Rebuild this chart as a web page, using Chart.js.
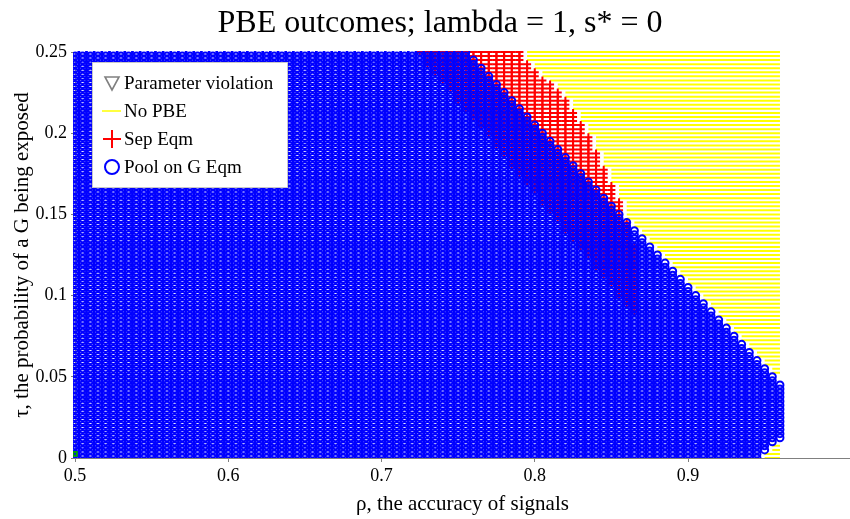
<!DOCTYPE html>
<html>
<head>
<meta charset="utf-8">
<script src="https://cdn.jsdelivr.net/npm/chart.js@4.4.1/dist/chart.umd.min.js"></script>
<style>
html,body{margin:0;padding:0;background:#ffffff;}
#wrap{width:850px;height:519px;position:relative;}
</style>
</head>
<body>
<div id="wrap"><canvas id="c" width="850" height="519"></canvas></div>
<script>
// ---------------- data ----------------
const titleText = 'PBE outcomes; lambda = 1, s* = 0';
const xAxisTitle = 'ρ, the accuracy of signals';
const yAxisTitle = 'τ, the probability of a G being exposed';
const seriesNames = ['Parameter violation', 'No PBE', 'Sep Eqm', 'Pool on G Eqm'];

const xTickValues = [0.5, 0.6, 0.7, 0.8, 0.9];
const xTickLabels = ['0.5', '0.6', '0.7', '0.8', '0.9'];
const yTickValues = [0, 0.05, 0.1, 0.15, 0.2, 0.25];
const yTickLabels = ['0', '0.05', '0.1', '0.15', '0.2', '0.25'];

// rho grid (columns)
const rhoGrid = [
  0.5,0.505,0.51,0.515,0.52,0.525,0.53,0.535,0.54,0.545,
  0.55,0.555,0.56,0.565,0.57,0.575,0.58,0.585,0.59,0.595,
  0.6,0.605,0.61,0.615,0.62,0.625,0.63,0.635,0.64,0.645,
  0.65,0.655,0.66,0.665,0.67,0.675,0.68,0.685,0.69,0.695,
  0.7,0.705,0.71,0.715,0.72,0.725,0.73,0.735,0.74,0.745,
  0.75,0.755,0.76,0.765,0.77,0.775,0.78,0.785,0.79,0.795,
  0.8,0.805,0.81,0.815,0.82,0.825,0.83,0.835,0.84,0.845,
  0.85,0.855,0.86,0.865,0.87,0.875,0.88,0.885,0.89,0.895,
  0.9,0.905,0.91,0.915,0.92,0.925,0.93,0.935,0.94,0.945,
  0.95,0.955,0.96
];

// tau grid (rows)
const tauGrid = [
  0,0.0025,0.005,0.0075,0.01,0.0125,0.015,0.0175,0.02,0.0225,
  0.025,0.0275,0.03,0.0325,0.035,0.0375,0.04,0.0425,0.045,0.0475,
  0.05,0.0525,0.055,0.0575,0.06,0.0625,0.065,0.0675,0.07,0.0725,
  0.075,0.0775,0.08,0.0825,0.085,0.0875,0.09,0.0925,0.095,0.0975,
  0.1,0.1025,0.105,0.1075,0.11,0.1125,0.115,0.1175,0.12,0.1225,
  0.125,0.1275,0.13,0.1325,0.135,0.1375,0.14,0.1425,0.145,0.1475,
  0.15,0.1525,0.155,0.1575,0.16,0.1625,0.165,0.1675,0.17,0.1725,
  0.175,0.1775,0.18,0.1825,0.185,0.1875,0.19,0.1925,0.195,0.1975,
  0.2,0.2025,0.205,0.2075,0.21,0.2125,0.215,0.2175,0.22,0.2225,
  0.225,0.2275,0.23,0.2325,0.235,0.2375,0.24,0.2425,0.245,0.2475,
  0.25
];

// Pool on G Eqm: tau range per rho column
const poolTauMin = [
  0,0,0,0,0,0,0,0,0,0, 0,0,0,0,0,0,0,0,0,0,
  0,0,0,0,0,0,0,0,0,0, 0,0,0,0,0,0,0,0,0,0,
  0,0,0,0,0,0,0,0,0,0, 0,0,0,0,0,0,0,0,0,0,
  0,0,0,0,0,0,0,0,0,0, 0,0,0,0,0,0,0,0,0,0,
  0,0,0,0,0,0,0,0,0,0, 0.005,0.01,0.0125
];
const poolTauMax = [
  0.25,0.25,0.25,0.25,0.25,0.25,0.25,0.25,0.25,0.25,
  0.25,0.25,0.25,0.25,0.25,0.25,0.25,0.25,0.25,0.25,
  0.25,0.25,0.25,0.25,0.25,0.25,0.25,0.25,0.25,0.25,
  0.25,0.25,0.25,0.25,0.25,0.25,0.25,0.25,0.25,0.25,
  0.25,0.25,0.25,0.25,0.25,0.25,0.25,0.25,0.25,0.25,
  0.25,0.25,0.245,0.24,0.235,0.23,0.225,0.22,0.215,0.21,
  0.205,0.2,0.195,0.19,0.185,0.18,0.175,0.17,0.165,0.16,
  0.155,0.15,0.145,0.14,0.135,0.13,0.125,0.12,0.115,0.11,
  0.105,0.1,0.095,0.09,0.085,0.08,0.075,0.07,0.065,0.06,
  0.055,0.05,0.045
];

// Sep Eqm: tau range per rho column (only these columns)
const sepRho = [
  0.725,0.73,0.735,0.74,0.745,0.75,0.755,0.76,0.765,0.77,
  0.775,0.78,0.785,0.79,0.795,0.8,0.805,0.81,0.815,0.82,
  0.825,0.83,0.835,0.84,0.845,0.85,0.855,0.86,0.865
];
const sepTauMin = [
  0.25,0.2425,0.2375,0.2325,0.2275,0.22,0.215,0.21,0.205,0.2,
  0.1925,0.1875,0.18,0.175,0.17,0.165,0.1575,0.1525,0.1475,0.14,
  0.135,0.13,0.125,0.1175,0.1125,0.1075,0.1,0.095,0.09
];
const sepTauMax = [
  0.25,0.25,0.25,0.25,0.25,0.25,0.25,0.25,0.25,0.25,
  0.25,0.25,0.25,0.25,0.2425,0.2375,0.2325,0.23,0.225,0.22,
  0.2125,0.205,0.1975,0.1875,0.1775,0.1675,0.1575,0.145,0.13
];

// Parameter violation: no grid point visible
const violationRho = [];
const violationTau = [];
// small green mark at the origin corner
const originMarkRho = [0.5];
const originMarkTau = [0.0025];

// ---------------- build point sets ----------------
const EPS = 1e-9;
function inRange(v, lo, hi) { return v >= lo - EPS && v <= hi + EPS; }
function sepIndex(rho) { return sepRho.findIndex(r => Math.abs(r - rho) < EPS); }
function hasPool(i, j) { return inRange(tauGrid[j], poolTauMin[i], poolTauMax[i]); }
function hasSep(i, j) {
  const k = sepIndex(rhoGrid[i]);
  return k >= 0 && inRange(tauGrid[j], sepTauMin[k], sepTauMax[k]);
}

const poolPts = [], sepPts = [], noPbePts = [];
for (let i = 0; i < rhoGrid.length; i++) {
  for (let j = 0; j < tauGrid.length; j++) {
    if (hasSep(i, j)) sepPts.push({x: rhoGrid[i], y: tauGrid[j]});
    if (hasPool(i, j)) poolPts.push({x: rhoGrid[i], y: tauGrid[j]});
  }
}
for (let j = 0; j < tauGrid.length; j++) {
  let start = -1;
  for (let i = 0; i <= rhoGrid.length; i++) {
    const none = i < rhoGrid.length && !hasPool(i, j) && !hasSep(i, j);
    if (none && start < 0) start = i;
    if (!none && start >= 0) {
      noPbePts.push({x: rhoGrid[start], y: tauGrid[j]});
      noPbePts.push({x: rhoGrid[i - 1], y: tauGrid[j]});
      noPbePts.push({x: NaN, y: NaN});
      start = -1;
    }
  }
}
const violationPts = violationRho.map((r, k) => ({x: r, y: violationTau[k]}));
const originPts = originMarkRho.map((r, k) => ({x: r, y: originMarkTau[k]}));

// ---------------- plugins ----------------
const SERIF = '"Liberation Serif", "Times New Roman", Times, serif';

const titlePlugin = {
  id: 'plotTitle',
  afterDraw(chart) {
    const ctx = chart.ctx;
    ctx.save();
    ctx.font = '32px ' + SERIF;
    ctx.fillStyle = '#000';
    ctx.textAlign = 'center';
    ctx.textBaseline = 'alphabetic';
    ctx.fillText(titleText, 440, 32);
    ctx.restore();
  }
};

const legendPlugin = {
  id: 'boxLegend',
  afterDatasetsDraw(chart) {
    const ctx = chart.ctx;
    ctx.save();
    const bx = 92, by = 62, bw = 196, bh = 126;
    ctx.fillStyle = '#ffffff';
    ctx.fillRect(bx, by, bw, bh);
    ctx.strokeStyle = '#c8c8c8';
    ctx.lineWidth = 1;
    ctx.strokeRect(bx + 0.5, by + 0.5, bw - 1, bh - 1);
    const mx = 112, tx = 124;
    const rows = [83, 111, 139, 167];
    // Parameter violation: grey downward triangle
    ctx.strokeStyle = '#808080';
    ctx.lineWidth = 1.6;
    ctx.beginPath();
    ctx.moveTo(mx - 7, rows[0] - 6);
    ctx.lineTo(mx + 7, rows[0] - 6);
    ctx.lineTo(mx, rows[0] + 7);
    ctx.closePath();
    ctx.stroke();
    // No PBE: yellow line
    ctx.strokeStyle = '#ffff00';
    ctx.lineWidth = 1.5;
    ctx.beginPath();
    ctx.moveTo(mx - 10, rows[1]);
    ctx.lineTo(mx + 9, rows[1]);
    ctx.stroke();
    // Sep Eqm: red plus
    ctx.strokeStyle = '#ff0000';
    ctx.lineWidth = 2;
    ctx.beginPath();
    ctx.moveTo(mx - 9, rows[2]); ctx.lineTo(mx + 9, rows[2]);
    ctx.moveTo(mx, rows[2] - 9); ctx.lineTo(mx, rows[2] + 9);
    ctx.stroke();
    // Pool on G Eqm: blue circle
    ctx.strokeStyle = '#0000ff';
    ctx.lineWidth = 2;
    ctx.beginPath();
    ctx.arc(mx, rows[3], 7, 0, Math.PI * 2);
    ctx.stroke();
    // labels
    ctx.fillStyle = '#000';
    ctx.font = '19px ' + SERIF;
    ctx.textAlign = 'left';
    ctx.textBaseline = 'middle';
    seriesNames.forEach((name, k) => ctx.fillText(name, tx, rows[k] + 1));
    ctx.restore();
  }
};

// ---------------- chart ----------------
const clipBox = {left: 2, top: 1, right: 20, bottom: 0};
new Chart(document.getElementById('c'), {
  type: 'scatter',
  data: {
    datasets: [
      {
        label: seriesNames[3], data: poolPts, order: 1,
        pointStyle: 'circle', pointRadius: 3.5, borderWidth: 2,
        borderColor: '#0000ff', backgroundColor: 'rgba(0,0,0,0)', clip: clipBox
      },
      {
        label: seriesNames[2], data: sepPts, order: 2,
        pointStyle: 'cross', pointRadius: 4, borderWidth: 2,
        borderColor: '#ff0000', backgroundColor: '#ff0000', clip: clipBox
      },
      {
        label: seriesNames[1], data: noPbePts, order: 3,
        showLine: true, spanGaps: false, pointRadius: 0, borderWidth: 2,
        borderColor: '#ffff00', backgroundColor: '#ffff00', clip: clipBox
      },
      {
        label: seriesNames[0], data: violationPts, order: 4,
        pointStyle: 'triangle', rotation: 180, pointRadius: 5, borderWidth: 1.5,
        borderColor: '#808080', backgroundColor: 'rgba(0,0,0,0)', clip: clipBox
      },
      {
        label: 'origin', data: originPts, order: 0,
        pointStyle: 'rect', pointRadius: 2.6, borderWidth: 2,
        borderColor: '#00a000', backgroundColor: 'rgba(0,0,0,0)', clip: clipBox
      }
    ]
  },
  options: {
    responsive: false,
    animation: false,
    devicePixelRatio: 1,
    events: [],
    layout: {autoPadding: false, padding: {top: 52, left: 0, right: 0, bottom: 0}},
    plugins: {
      legend: {display: false},
      tooltip: {enabled: false},
      title: {display: false}
    },
    scales: {
      x: {
        type: 'linear', min: 0.5, max: 1.0057,
        afterBuildTicks: s => { s.ticks = xTickValues.map(v => ({value: v})); },
        afterFit: s => { s.height = 61; },
        grid: {display: true, drawOnChartArea: false, drawTicks: true, tickLength: 4, color: '#808080'},
        border: {display: true, color: '#808080', width: 1},
        ticks: {
          color: '#000', padding: 3, maxRotation: 0, autoSkip: false,
          font: {family: SERIF, size: 18},
          callback: (v) => { const k = xTickValues.findIndex(t => Math.abs(t - v) < 1e-9); return k >= 0 ? xTickLabels[k] : ''; }
        },
        title: {display: true, text: xAxisTitle, color: '#000', font: {family: SERIF, size: 21}, padding: {top: 0, bottom: 2}}
      },
      y: {
        type: 'linear', min: 0, max: 0.25,
        afterBuildTicks: s => { s.ticks = yTickValues.map(v => ({value: v})); },
        afterFit: s => { s.width = 75; },
        grid: {display: true, drawOnChartArea: false, drawTicks: true, tickLength: 4, color: '#808080'},
        border: {display: true, color: '#808080', width: 1},
        ticks: {
          color: '#000', padding: 4, autoSkip: false,
          font: {family: SERIF, size: 18},
          callback: (v) => { const k = yTickValues.findIndex(t => Math.abs(t - v) < 1e-9); return k >= 0 ? yTickLabels[k] : ''; }
        },
        title: {display: true, text: yAxisTitle, color: '#000', font: {family: SERIF, size: 21}, padding: {top: 10, bottom: 0}}
      }
    }
  },
  plugins: [titlePlugin, legendPlugin]
});
</script>
</body>
</html>
